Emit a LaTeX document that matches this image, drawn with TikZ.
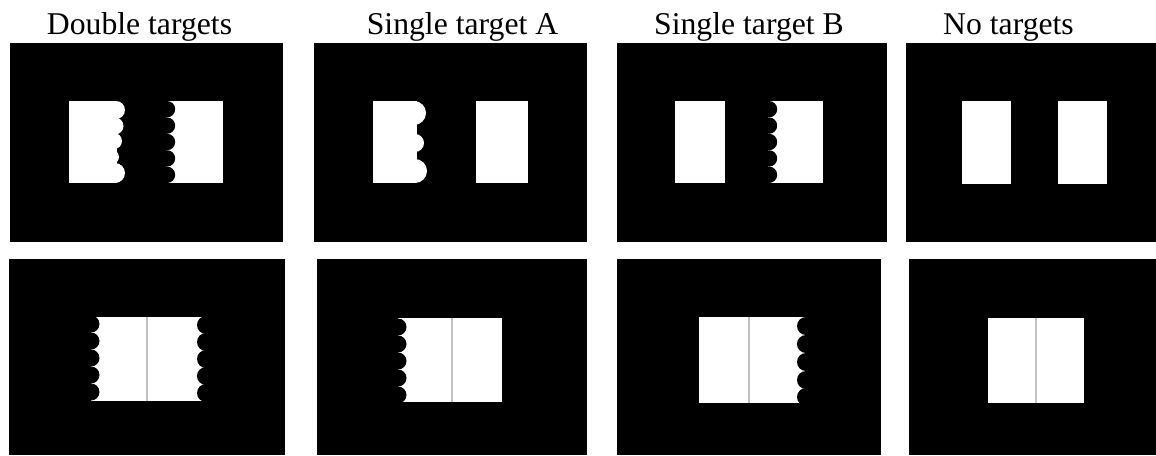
\documentclass[tikz,border=0pt]{standalone}
\usepackage{fontspec}
\setmainfont{Liberation Serif}
\begin{document}
\begin{tikzpicture}[x=1pt,y=-1pt,
  panel/.style={fill=black},
  card/.style={fill=white},
  bite/.style={fill=black},
  seam/.style={draw=black!24,line width=1.2pt},
  title/.style={anchor=base,inner sep=0pt,font=\fontsize{31.7}{38}\selectfont}]
\useasboundingbox[fill=white] (0,0) rectangle (1156,455);

% column headings
\node[title] (tDouble) at (139.5,34) {Double targets};
\node[title] (tSingleA) at (462.5,34) {Single target A};
\node[title] (tSingleB) at (749,34) {Single target B};
\node[title] (tNone) at (1008.5,34) {No targets};

% ---------- top row: two separated cards ----------
\fill[panel] (10,43) rectangle (283,242);
\fill[panel] (314,43) rectangle (587,242);
\fill[panel] (617,43) rectangle (887,242);
\fill[panel] (906,43) rectangle (1156,242);

% double targets: bulging right edge on the left card, bitten left edge on the right card
\fill[card] (69,101) rectangle (117,183);
\foreach \cy/\cx/\r in {110/116/9, 126/115/8.5, 141/114/8, 157/112/7, 173/115/10}
  \fill[card] (\cx,\cy) circle[radius=\r pt];
\fill[card] (166,101) rectangle (223,183);
\foreach \cy in {109.2,125.6,142,158.4,174.8}
  \fill[bite] (167,\cy) circle[radius=8.2pt];

% single target A: bulging edge on the left card only
\fill[card] (373,101) rectangle (417,183);
\foreach \cy/\cx/\r in {113/414/12, 143/415/9, 171/415/12}
  \fill[card] (\cx,\cy) circle[radius=\r pt];
\fill[card] (476,101) rectangle (528,183);

% single target B: bitten edge on the right card only
\fill[card] (675,101) rectangle (725,183);
\fill[card] (768,101) rectangle (823,183);
\foreach \cy in {109.2,125.6,142,158.4,174.8}
  \fill[bite] (769,\cy) circle[radius=8.2pt];

% no targets: plain cards
\fill[card] (962,101) rectangle (1011,184);
\fill[card] (1058,101) rectangle (1107,184);

% ---------- bottom row: joined cards with a seam ----------
\fill[panel] (9,259) rectangle (285,455);
\fill[panel] (317,259) rectangle (587,455);
\fill[panel] (617,259) rectangle (881,455);
\fill[panel] (909,259) rectangle (1156,455);

% double targets: both outer edges bitten
\fill[card] (91,317) rectangle (206,401);
\foreach \cy in {324,341,358,375,392}
  \fill[bite] (91,\cy) circle[radius=8.5pt];
\foreach \cy in {325,342,359,376,393}
  \fill[bite] (206,\cy) circle[radius=9pt];
\draw[seam] (147,317) -- (147,401);

% single target A: left edge bitten
\fill[card] (398,318) rectangle (502,402);
\foreach \cy in {327,344,361,378,395}
  \fill[bite] (398,\cy) circle[radius=8.5pt];
\draw[seam] (452,318) -- (452,402);

% single target B: right edge bitten
\fill[card] (699,317) rectangle (806,403);
\foreach \cy in {326,344,362,380,397}
  \fill[bite] (806,\cy) circle[radius=9pt];
\draw[seam] (749,317) -- (749,403);

% no targets: plain joined cards
\fill[card] (988,318) rectangle (1084,403);
\draw[seam] (1036,318) -- (1036,403);
\end{tikzpicture}
\end{document}
